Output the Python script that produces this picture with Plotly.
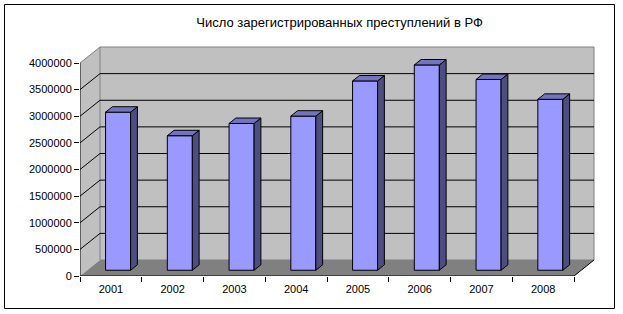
import plotly.graph_objects as go

# ---- data ----
years = ["2001", "2002", "2003", "2004", "2005", "2006", "2007", "2008"]
crimes = [2968255, 2526305, 2756398, 2893810, 3554738, 3855373, 3582541, 3209862]
y_ticks = [0, 500000, 1000000, 1500000, 2000000, 2500000, 3000000, 3500000, 4000000]
title_text = "Число зарегистрированных преступлений в РФ"

# ---- geometry (pixels -> data units) ----
W, H = 623, 314
ML, MR, MT, MB = 80, 23, 40, 38
CAT_PX = 61.75                 # pixels per category
VAL_PX = 26.625 / 500000       # pixels per value unit
DX = 20 / CAT_PX               # depth offset (x units)
DY = 16 / VAL_PX               # depth offset (value units)
XR = [-0.5, -0.5 + (W - ML - MR) / CAT_PX]
YR = [0, (H - MT - MB) / VAL_PX]
BAR_W = 0.405
D0, D1 = 0.36, 0.70
YMAX = y_ticks[-1]
X0, X1 = -0.5, len(years) - 0.5

WALL = "#C0C0C0"
FLOOR = "#808080"
FRONT = "#9999FF"
SIDE = "#4D4D80"
TOP = "#7373BF"


def P(x, v, d):
    return (x + d * DX, v + d * DY)


fig = go.Figure()


def poly(pts, fill, line_color=None, width=1):
    xs = [p[0] for p in pts] + [pts[0][0]]
    ys = [p[1] for p in pts] + [pts[0][1]]
    line = dict(color=line_color, width=width) if line_color else dict(width=0)
    fig.add_trace(go.Scatter(x=xs, y=ys, mode="lines", fill="toself",
                             fillcolor=fill, line=line, hoverinfo="skip",
                             showlegend=False))


def lines(segs, color, width=1):
    xs, ys = [], []
    for a, b in segs:
        xs += [a[0], b[0], None]
        ys += [a[1], b[1], None]
    fig.add_trace(go.Scatter(x=xs, y=ys, mode="lines",
                             line=dict(color=color, width=width),
                             hoverinfo="skip", showlegend=False))


# side wall
poly([P(X0, 0, 0), P(X0, 0, 1), P(X0, YMAX, 1), P(X0, YMAX, 0)], WALL)
# back wall
poly([P(X0, 0, 1), P(X1, 0, 1), P(X1, YMAX, 1), P(X0, YMAX, 1)], WALL, FLOOR)
# floor
poly([P(X0, 0, 0), P(X1, 0, 0), P(X1, 0, 1), P(X0, 0, 1)], FLOOR)

# gridlines
grid = []
for v in y_ticks[1:-1]:
    grid.append((P(X0, v, 1), P(X1, v, 1)))
    grid.append((P(X0, v, 0), P(X0, v, 1)))
lines(grid, "black")
# wall top edge (gray)
lines([(P(X0, YMAX, 0), P(X0, YMAX, 1))], FLOOR)

# bars
for i, v in enumerate(crimes):
    a, b = i - BAR_W / 2, i + BAR_W / 2
    poly([P(a, 0, D0), P(b, 0, D0), P(b, v, D0), P(a, v, D0)], FRONT, "black")
    poly([P(b, 0, D0), P(b, 0, D1), P(b, v, D1), P(b, v, D0)], SIDE, "black")
    poly([P(a, v, D0), P(b, v, D0), P(b, v, D1), P(a, v, D1)], TOP, "black")

# axis lines
lines([(P(X0, 0, 0), P(X0, YMAX, 0)),
       (P(X0, 0, 0), P(X1, 0, 0)),
       (P(X1, 0, 0), P(X1, 0, 1))], "black")

FONT = dict(family="Liberation Sans, Arial, sans-serif", size=11, color="black")

fig.update_layout(
    width=W, height=H,
    margin=dict(l=ML, r=MR, t=MT, b=MB),
    paper_bgcolor="white", plot_bgcolor="white",
    showlegend=False,
    font=FONT,
    title=dict(text=title_text, x=311 / W, xanchor="center",
               y=1 - 22 / H, yanchor="middle", xref="paper", yref="container",
               font=dict(family="Liberation Sans, Arial, sans-serif", size=13,
                         color="black")),
    xaxis=dict(range=XR, showgrid=False, zeroline=False, showline=False,
               tickmode="array", tickvals=list(range(len(years))),
               ticktext=years, ticks="", tickfont=FONT, ticklabelstandoff=5,
               minor=dict(tick0=-0.5, dtick=1, ticks="outside", ticklen=5,
                          tickcolor="black", showgrid=False),
               fixedrange=True),
    yaxis=dict(range=YR, showgrid=False, zeroline=False, showline=False,
               tickmode="array", tickvals=y_ticks,
               ticktext=[str(t) for t in y_ticks],
               ticks="outside", ticklen=5, tickcolor="black", tickfont=FONT,
               fixedrange=True),
    shapes=[dict(type="rect", xref="paper", yref="paper",
                 x0=(4.5 - ML) / (W - ML - MR), x1=(614.5 - ML) / (W - ML - MR),
                 y0=(H - MB - 308.5) / (H - MT - MB),
                 y1=(H - MB - 4.5) / (H - MT - MB),
                 line=dict(color="black", width=1), layer="above")],
)

fig.write_html("out.html")
